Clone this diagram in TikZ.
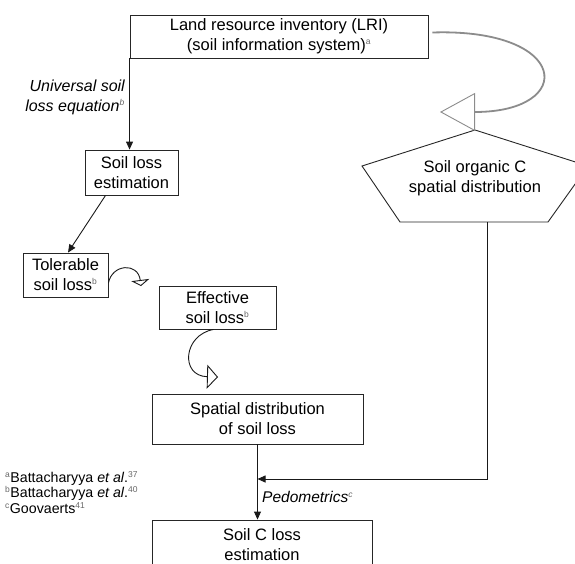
\documentclass[tikz,border=0pt]{standalone}
\usepackage{fontspec}
\setmainfont{Liberation Sans}
\usetikzlibrary{arrows.meta,calc}
\newcommand{\boxfont}{\fontsize{16.5}{20}\selectfont}
\newcommand{\labfont}{\fontsize{16}{20}\selectfont\itshape}
\newcommand{\pedfont}{\fontsize{15.5}{20}\selectfont\itshape}
\newcommand{\reffont}{\fontsize{14.2}{15.5}\selectfont}
\newcommand{\sups}[1]{\textsuperscript{\color{black!60}\fontsize{8.5}{8.5}\selectfont #1}}
\begin{document}
\begin{tikzpicture}[x=1pt,y=-1pt,
  box/.style={draw=black!85, line width=0.9pt, align=center, inner sep=0pt, font=\boxfont},
  conn/.style={draw=black!90, line width=0.9pt, -{Triangle[length=8pt,width=7pt]}},
  openarr/.style={draw=black!90, line width=0.9pt},
  lab/.style={align=right, inner sep=0pt, font=\labfont},
  reftxt/.style={align=left, inner sep=0pt, anchor=north west, font=\reffont}]
\useasboundingbox (0,0) rectangle (575,563);
% boxes
\node[box, minimum width=298pt, minimum height=43pt] (LRI) at (279,36.5)
  {Land resource inventory (LRI)\\(soil information system)\sups{a}};
\node[box, minimum width=93pt, minimum height=45pt] (SLE) at (131.5,172.5)
  {Soil loss\\estimation};
\node[box, minimum width=85pt, minimum height=44pt] (Tol) at (65.5,275)
  {Tolerable\\soil loss\sups{b}};
\node[box, minimum width=117pt, minimum height=43pt] (Eff) at (217.5,307.5)
  {Effective\\soil loss\sups{b}};
\node[box, minimum width=211pt, minimum height=50pt] (Spa) at (257.5,419)
  {Spatial distribution\\of soil loss};
\node[box, minimum width=220pt, minimum height=50pt] (SCL) at (262,545)
  {Soil C loss\\estimation};
% pentagon
\coordinate (P1) at (475,130);
\coordinate (P2) at (588,166);
\coordinate (P3) at (548,222);
\coordinate (P4) at (400,222);
\coordinate (P5) at (362,166);
\draw[black!85, line width=0.9pt] (P1) -- (P2) -- (P3) -- (P4) -- (P5) -- cycle;
\node[align=center, inner sep=0pt, font=\boxfont] (pent) at (475,178.5)
  {Soil organic C\\spatial distribution};
\coordinate (pentout) at (487,222);
% labels
\node[lab, anchor=north east] (usle) at (125,80) {Universal soil\\loss equation\sups{b}};
\node[anchor=west, inner sep=0pt, font=\pedfont] (pedo) at (262,497) {Pedometrics\sups{c}};
\node[reftxt] (refs) at (5,471)
  {\sups{a}Battacharyya \textit{et al}.\sups{37}\\
   \sups{b}Battacharyya \textit{et al}.\sups{40}\\
   \sups{c}Goovaerts\sups{41}};
% connectors
\draw[conn] (LRI.south west) -- (LRI.south west |- SLE.north);
\draw[conn] ($(SLE.south)+(-26,0)$) -- ($(Tol.north)+(2.5,0)$);
\draw[black!45, line width=1.8pt,
  -{Triangle[open, length=35pt, width=38pt, line width=0.9pt, color=black!45, fill=white]}]
  ($(LRI.east)+(4,-4)$) .. controls (570,28) and (577,112) .. (440,112);
\draw[openarr, -{Triangle[open, length=6pt, width=18pt, fill=white]}]
  ($(Tol.east)+(0,8)$) .. controls (112,264) and (138,262) .. (141,286);
\draw[openarr, -{Triangle[open, length=11pt, width=24pt, fill=white]}]
  ($(Eff.south)+(-4,0)$) .. controls (183,335) and (180,376) .. (218,377);
\draw[conn] (Spa.south) -- (Spa.south |- SCL.north);
\coordinate (join) at (Spa.south |- 0,479);
\draw[conn] (pentout) |- (join);
\end{tikzpicture}
\end{document}
